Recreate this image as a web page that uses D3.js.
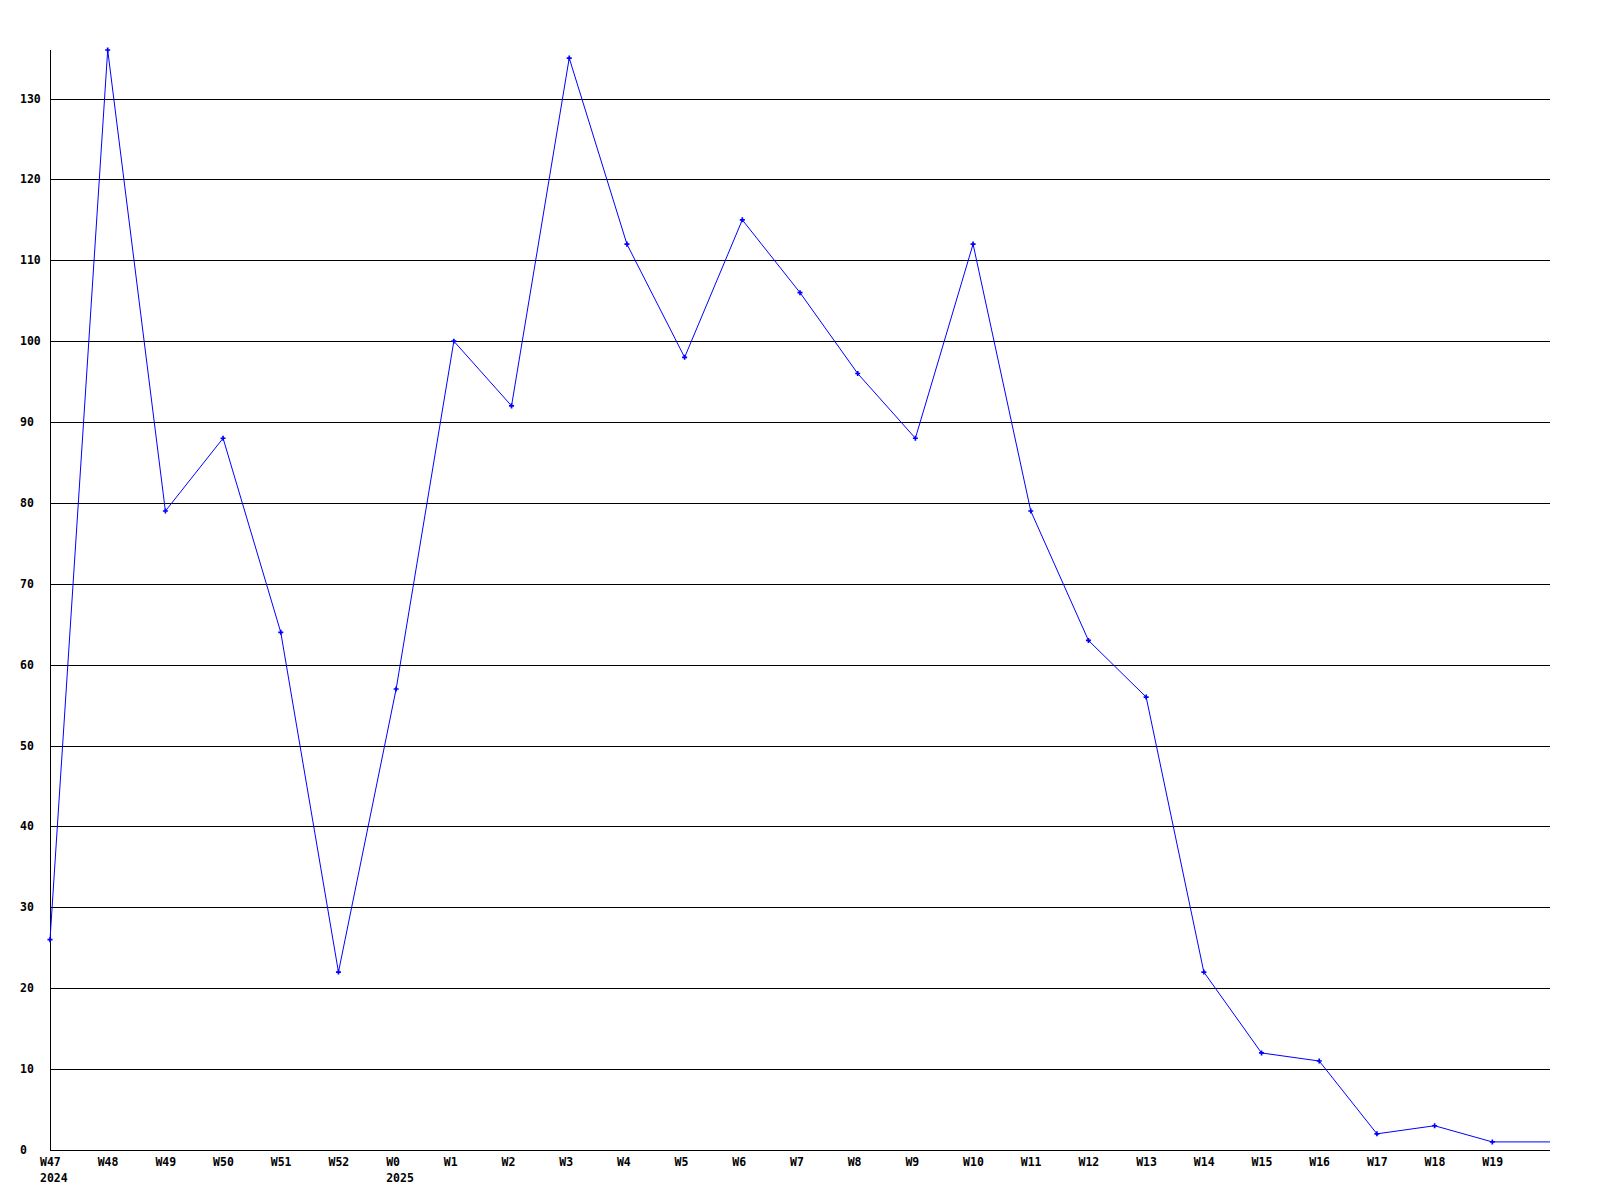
<!DOCTYPE html>
<html>
<head>
<meta charset="utf-8">
<script src="https://cdn.jsdelivr.net/npm/d3@7"></script>
<style>
html,body{margin:0;padding:0;background:#fff;}
text{font-family:"DejaVu Sans Mono","Liberation Mono",monospace;font-weight:bold;font-size:11.5px;fill:#000;}
</style>
</head>
<body>
<svg id="chart" width="1600" height="1200"></svg>
<script>
const weekLabels = ["W47","W48","W49","W50","W51","W52","W0","W1","W2","W3","W4","W5","W6","W7","W8","W9","W10","W11","W12","W13","W14","W15","W16","W17","W18","W19",""];
const yearLabels = ["2024","","","","","","2025","","","","","","","","","","","","","","","","","","","",""];
const values = [26,136,79,88,64,22,57,100,92,135,112,98,115,106,96,88,112,79,63,56,22,12,11,2,3,1,1];
const markerShown = [1,1,1,1,1,1,1,1,1,1,1,1,1,1,1,1,1,1,1,1,1,1,1,1,1,1,0];
const yTicks = [0,10,20,30,40,50,60,70,80,90,100,110,120,130];
const yMax = 136;

const svg = d3.select("#chart");
const x = d3.scaleLinear().domain([0, values.length - 1]).range([50, 1550]);
const y = d3.scaleLinear().domain([0, yMax]).range([1150, 50]);

// gridlines
svg.append("g").selectAll("line").data(yTicks.filter(d => d > 0)).join("line")
  .attr("x1", 50).attr("x2", 1550)
  .attr("y1", d => Math.round(y(d)) + 0.5).attr("y2", d => Math.round(y(d)) + 0.5)
  .attr("stroke", "#000").attr("stroke-width", 1).attr("shape-rendering", "crispEdges");

// axes
svg.append("line").attr("x1", 50.5).attr("x2", 50.5).attr("y1", 50).attr("y2", 1150.5)
  .attr("stroke", "#000").attr("shape-rendering", "crispEdges");
svg.append("line").attr("x1", 50).attr("x2", 1550).attr("y1", 1150.5).attr("y2", 1150.5)
  .attr("stroke", "#000").attr("shape-rendering", "crispEdges");

// y labels
svg.append("g").selectAll("text").data(yTicks).join("text")
  .attr("x", 20).attr("y", d => y(d)).attr("dy", "0.35em")
  .text(d => d);

// x labels
svg.append("g").selectAll("text").data(weekLabels).join("text")
  .attr("x", (d, i) => x(i) - 10).attr("y", 1166).attr("text-anchor", "start")
  .text(d => d);
svg.append("g").selectAll("text").data(yearLabels).join("text")
  .attr("x", (d, i) => x(i) - 10).attr("y", 1182).attr("text-anchor", "start")
  .text(d => d);

// line
const line = d3.line().x((d, i) => x(i)).y(d => y(d));
svg.append("path").datum(values).attr("d", line)
  .attr("fill", "none").attr("stroke", "#0000ff").attr("stroke-width", 1);

// markers
svg.append("g").selectAll("path").data(values.map((v, i) => ({v, i})).filter(d => markerShown[d.i])).join("path")
  .attr("d", d3.symbol().type(d3.symbolCross).size(14))
  .attr("transform", d => `translate(${x(d.i)},${y(d.v)})`)
  .attr("fill", "#0000ff");
</script>
</body>
</html>
